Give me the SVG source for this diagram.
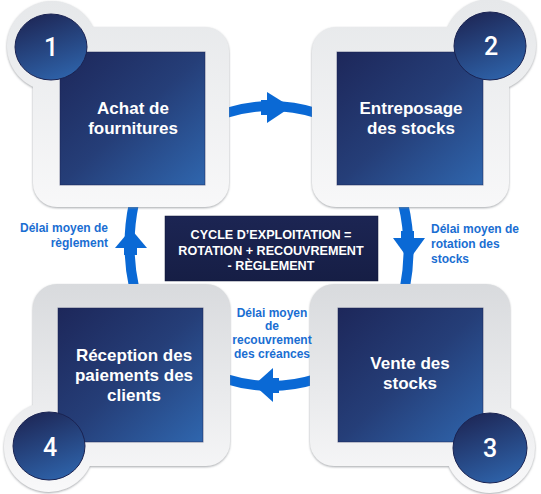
<svg xmlns="http://www.w3.org/2000/svg" width="541" height="494" viewBox="0 0 541 494">
<defs>
<linearGradient id="inner" x1="0" y1="0" x2="1" y2="1">
<stop offset="0" stop-color="#1d275a"/>
<stop offset="0.5" stop-color="#253e78"/>
<stop offset="1" stop-color="#2f66ae"/>
</linearGradient>
<linearGradient id="badge" x1="0.3" y1="0" x2="0.7" y2="1">
<stop offset="0" stop-color="#1e2858"/>
<stop offset="1" stop-color="#2e63aa"/>
</linearGradient>
<linearGradient id="fT" gradientUnits="userSpaceOnUse" x1="0" y1="0" x2="0" y2="210">
<stop offset="0" stop-color="#e6e8ea"/>
<stop offset="1" stop-color="#f8f8f9"/>
</linearGradient>
<linearGradient id="fB" gradientUnits="userSpaceOnUse" x1="0" y1="282" x2="0" y2="494">
<stop offset="0" stop-color="#d8dadd"/>
<stop offset="1" stop-color="#f9f9fa"/>
</linearGradient>
<linearGradient id="box" x1="0" y1="0" x2="0" y2="1">
<stop offset="0" stop-color="#1c2553"/>
<stop offset="1" stop-color="#161e45"/>
</linearGradient>
<filter id="sh" x="-10%" y="-10%" width="120%" height="120%">
<feDropShadow dx="0" dy="1" stdDeviation="1.2" flood-color="#7d8288" flood-opacity="0.7"/>
</filter>
</defs>
<style>
.frame{filter:url(#sh)}
.inner{fill:url(#inner);stroke:#1a2150;stroke-opacity:0.5}
.dot{fill:url(#badge);stroke:#1a2352;stroke-width:1}
.num{font-family:Roboto,"Liberation Sans",sans-serif;font-weight:500;font-size:25px;fill:#fff;text-anchor:middle}
.t{font-family:"Liberation Sans",Arial,sans-serif;font-weight:bold;font-size:17px;fill:#fff;text-anchor:middle}
.lbl{font-family:"Liberation Sans",Arial,sans-serif;font-weight:bold;font-size:12px;fill:#1a6ed2}
.band{fill:none;stroke:#0a69d5;stroke-width:10}
.head{fill:#0a69d5}
.ct{font-family:"Liberation Sans",Arial,sans-serif;font-weight:bold;font-size:12.6px;fill:#fff;text-anchor:middle}
</style>
<rect width="541" height="494" fill="#ffffff"/>

<g id="connectors">
<path class="band" d="M226,113 Q271,99 316,113"/>
<rect class="head" x="261" y="100" width="8" height="15"/>
<polygon class="head" points="267,92 291,107 267,123"/>

<path class="band" d="M403,203 Q413,245 405,287"/>
<rect class="head" x="401" y="231" width="13" height="8"/>
<polygon class="head" points="393,238 409,260 425,238"/>

<path class="band" d="M316,379 Q271,393 226,379"/>
<rect class="head" x="271" y="378" width="8" height="15"/>
<polygon class="head" points="273,368 254,385 273,402"/>

<path class="band" d="M134,287 Q125,245 134,203"/>
<rect class="head" x="124" y="247" width="13" height="8"/>
<polygon class="head" points="115,248 131,229 147,248"/>
</g>

<g id="node1">
<g class="frame">
<rect x="33" y="27" width="196" height="180" rx="24" fill="url(#fT)"/>
<circle cx="52" cy="46" r="45" fill="url(#fT)"/>
</g>
<rect class="inner" x="60" y="52" width="145" height="133"/>
<ellipse class="dot" cx="51" cy="47" rx="36" ry="33"/>
<text class="num" x="51" y="56">1</text>
<text class="t" x="133" y="114">Achat de</text>
<text class="t" x="133" y="134">fournitures</text>
</g>

<g id="node2">
<g class="frame">
<rect x="312" y="27" width="197" height="180" rx="24" fill="url(#fT)"/>
<circle cx="490" cy="45" r="46" fill="url(#fT)"/>
</g>
<rect class="inner" x="337" y="52" width="146" height="133"/>
<ellipse class="dot" cx="490" cy="46" rx="36" ry="34"/>
<text class="num" x="491" y="55">2</text>
<text class="t" x="411" y="114">Entreposage</text>
<text class="t" x="411" y="134">des stocks</text>
</g>

<g id="node3">
<g class="frame">
<rect x="310" y="284" width="200" height="182" rx="24" fill="url(#fB)"/>
<circle cx="490" cy="448" r="45" fill="url(#fB)"/>
</g>
<rect class="inner" x="338" y="308" width="145" height="134"/>
<ellipse class="dot" cx="490" cy="448" rx="37" ry="35"/>
<text class="num" x="490" y="457">3</text>
<text class="t" x="410" y="369">Vente des</text>
<text class="t" x="410" y="389">stocks</text>
</g>

<g id="node4">
<g class="frame">
<rect x="33" y="284" width="197" height="182" rx="24" fill="url(#fB)"/>
<circle cx="49" cy="447" r="45" fill="url(#fB)"/>
</g>
<rect class="inner" x="58" y="308" width="145" height="134"/>
<ellipse class="dot" cx="49" cy="446" rx="36" ry="34"/>
<text class="num" x="50" y="456">4</text>
<text class="t" x="134" y="361">Réception des</text>
<text class="t" x="134" y="381">paiements des</text>
<text class="t" x="134" y="401">clients</text>
</g>

<g id="center">
<rect x="165" y="216" width="213" height="65" fill="url(#box)" stroke="#0f1636" stroke-width="0.5"/>
<text class="ct" x="271" y="239">CYCLE D’EXPLOITATION =</text>
<text class="ct" x="271" y="255">ROTATION + RECOUVREMENT</text>
<text class="ct" x="271" y="270">- RÈGLEMENT</text>
</g>

<g id="labels">
<text class="lbl" x="108" y="232" text-anchor="end">Délai moyen de</text>
<text class="lbl" x="108" y="247" text-anchor="end">règlement</text>
<text class="lbl" x="431" y="233">Délai moyen de</text>
<text class="lbl" x="431" y="248">rotation des</text>
<text class="lbl" x="431" y="263">stocks</text>
<text class="lbl" x="272" y="317" text-anchor="middle">Délai moyen</text>
<text class="lbl" x="272" y="330" text-anchor="middle">de</text>
<text class="lbl" x="272" y="344" text-anchor="middle">recouvrement</text>
<text class="lbl" x="272" y="358" text-anchor="middle">des créances</text>
</g>
</svg>
